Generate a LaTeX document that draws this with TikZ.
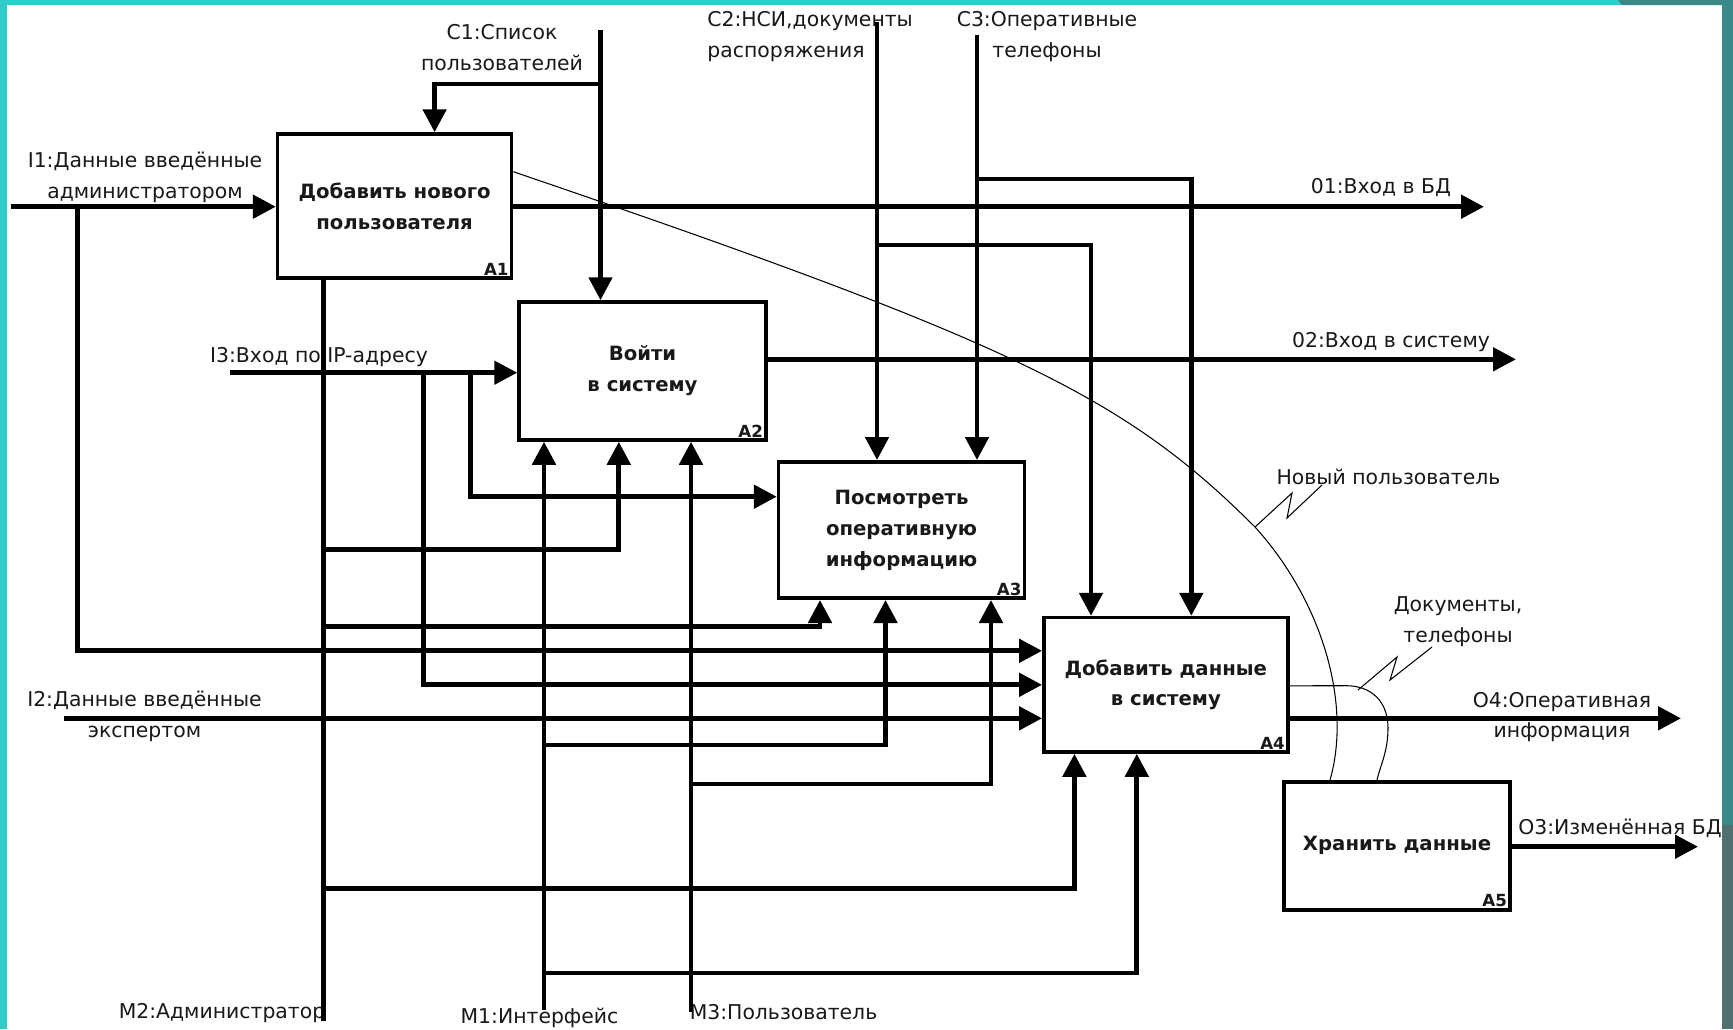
\documentclass[tikz,border=0pt]{standalone}
\usepackage{fontspec}
\setmainfont{DejaVu Sans}
\usepackage{tikz}
\usetikzlibrary{arrows.meta,positioning,calc}
\definecolor{iteal}{RGB}{51,204,204}
\definecolor{idark}{RGB}{59,136,136}
\definecolor{igray}{RGB}{80,112,112}
\definecolor{ink}{RGB}{25,25,25}
\tikzset{
  box/.style  ={rectangle, draw=black, line width=2pt, fill=white, align=center,
                inner sep=0pt, text=ink, font=\fontsize{11.2}{17.6}\selectfont\bfseries},
  num/.style  ={anchor=south east, inner sep=2.5pt, text=ink,
                font=\fontsize{9.5}{10}\selectfont\bfseries},
  lbl/.style  ={align=center, inner sep=0pt, text=ink, font=\fontsize{11.6}{17.6}\selectfont},
  ar/.style   ={-{Triangle[length=4.6mm,width=4.6mm]}, line width=2.8pt},
  ln/.style   ={line width=2.8pt},
  fine/.style ={line width=0.6pt}
}

\begin{document}
\begin{tikzpicture}[x=0.02cm, y=-0.02cm]
\useasboundingbox (0,0) rectangle (1733,1029);
\fill[white] (0,0) rectangle (1733,1029);
\fill[iteal] (0,0) rectangle (6.5,1029);
\fill[iteal] (0,0) rectangle (1625,5);
\fill[idark] (1618,0) -- (1733,0) -- (1733,825) -- (1722,825) -- (1722,5) -- (1622,5) -- cycle;
\fill[igray] (1722,825) rectangle (1733,1029);

\node[box, minimum width=4.68cm, minimum height=2.88cm] (A1) at (394.6,206) {Добавить нового\\пользователя};
\node[box, minimum width=4.94cm, minimum height=2.76cm] (A2) at (642.5,371) {Войти\\в систему};
\node[box, minimum width=4.92cm, minimum height=2.73cm] (A3) at (901.5,530) {Посмотреть\\оперативную\\информацию};
\node[box, minimum width=4.88cm, minimum height=2.69cm] (A4) at (1165.8,684.8) {Добавить данные\\в систему};
\node[box, minimum width=4.52cm, minimum height=2.56cm] (A5) at (1397,845.8) {Хранить данные};
\node[num] (n1) at (A1.south east) {A1};
\node[num] (n2) at (A2.south east) {A2};
\node[num] (n3) at (A3.south east) {A3};
\node[num] (n4) at (A4.south east) {A4};
\node[num] (n5) at (A5.south east) {A5};

\node[lbl] (c1l) at (502,48) {C1:Список\\пользователей};
\node[lbl, align=left, anchor=west] (c2l) at (707,37) {C2:НСИ,документы\\распоряжения};
\node[lbl] (c3l) at (1047,37) {C3:Оперативные\\телефоны};
\node[lbl] (i1l) at (145,177) {I1:Данные введённые\\администратором};
\node[lbl] (i3l) at (319,357) {I3:Вход по IP-адресу};
\node[lbl] (i2l) at (144.5,716.7) {I2:Данные введённые\\экспертом};
\node[lbl] (o1l) at (1381,188) {01:Вход в БД};
\node[lbl] (o2l) at (1391,342) {02:Вход в систему};
\node[lbl] (o4l) at (1562,717) {O4:Оперативная\\информация};
\node[lbl] (o3l) at (1620,828) {O3:Изменённая БД};
\node[lbl] (nul) at (1388.5,477) {Новый пользователь};
\node[lbl] (dtl) at (1458,622) {Документы,\\телефоны};
\node[lbl] (m2l) at (222,1013) {M2:Администратор};
\node[lbl] (m1l) at (539.5,1018) {M1:Интерфейс};
\node[lbl] (m3l) at (783.5,1012) {M3:Пользователь};

\coordinate (I1s) at (11,206.7);
\coordinate (I3s) at (230,372.7);
\coordinate (I2s) at (64,718.3);
\coordinate (C1s) at (600.5,30);
\coordinate (C2s) at (877,22);
\coordinate (C3s) at (977,35);
\coordinate (M2s) at (323.5,1021);
\coordinate (M1s) at (544,1010);
\coordinate (M3s) at (691,1012);
\coordinate (O1e) at (1484,206.7);
\coordinate (O2e) at (1516,359.3);
\coordinate (O4e) at (1681,718.3);
\coordinate (O3e) at (1698,846.7);
\coordinate (j1) at (77.7,206.7);
\coordinate (j3a) at (423.4,372.7);
\coordinate (j3b) at (470.6,372.7);
\coordinate (c1j) at (600.5,84);
\coordinate (c2j) at (877,245);
\coordinate (c3j) at (977,179);
\coordinate (m2a) at (323.5,549.3);
\coordinate (m2b) at (323.5,626.7);
\coordinate (m2c) at (323.5,888.3);
\coordinate (m1a) at (544,745);
\coordinate (m1b) at (544,973);
\coordinate (m3a) at (691,784);

\draw[ar] (I1s) -- (I1s -| A1.west);
\draw[ar] (j1) |- ($(A4.west)+(0,-34)$);
\draw[ar] (I3s) -- (I3s -| A2.west);
\draw[ar] (j3a) |- (A4.west);
\draw[ar] (j3b) |- ($(A3.west)+(0,-33.3)$);
\draw[ar] (I2s) -- (I2s -| A4.west);

\draw[ar] (C1s) -- (C1s |- A2.north);
\draw[ar] (c1j) -| ($(A1.north)+(40,0)$);
\draw[ar] (C2s) -- (C2s |- A3.north);
\draw[ar] (c2j) -| ($(A4.north)+(-74.8,0)$);
\draw[ar] (C3s) -- (C3s |- A3.north);
\draw[ar] (c3j) -| ($(A4.north)+(25.5,0)$);

\draw[ar] (A1.east |- O1e) -- (O1e);
\draw[ar] (A2.east |- O2e) -- (O2e);
\draw[ar] (A4.east |- O4e) -- (O4e);
\draw[ar] (A5.east |- O3e) -- (O3e);

\draw[ln] (M2s) -- (M2s |- A1.south);
\draw[ar] (M1s) -- (M1s |- A2.south);
\draw[ar] (M3s) -- (M3s |- A2.south);
\draw[ar] (m2a) -| ($(A2.south)+(-23.7,0)$);
\draw[ar] (m2b) -| ($(A3.south)+(-81.5,0)$);
\draw[ar] (m2c) -| ($(A4.south)+(-91.4,0)$);
\draw[ar] (m1a) -| ($(A3.south)+(-16,0)$);
\draw[ar] (m1b) -| ($(A4.south)+(-29,0)$);
\draw[ar] (m3a) -| ($(A3.south)+(89.5,0)$);

\coordinate (nu0) at ($(A1.east)+(0,-34.3)$);
\coordinate (nu1) at ($(A5.north)+(-67,0)$);
\coordinate (dt0) at ($(A4.east)+(0,1)$);
\coordinate (dt1) at ($(A5.north)+(-20,0)$);
\coordinate (sq1) at (1255,527);
\coordinate (sq2) at (1358,690);
\draw[fine] (nu0) .. controls (1012,342) and (1124,396) .. (sq1)
  .. controls (1322,601) and (1352,703) .. (nu1);
\draw[fine] (dt0) -- (1346,685.7) .. controls (1372,685.7) and (1388,702) .. (1388,728)
  .. controls (1388,752) and (1380,766) .. (dt1);
\draw[fine] (sq1) -- ++(37,-34) -- ++(-5,25) -- ++(35,-33);
\draw[fine] (sq2) -- ++(39,-33) -- ++(-7,23) -- ++(42,-33);
\end{tikzpicture}
\end{document}
